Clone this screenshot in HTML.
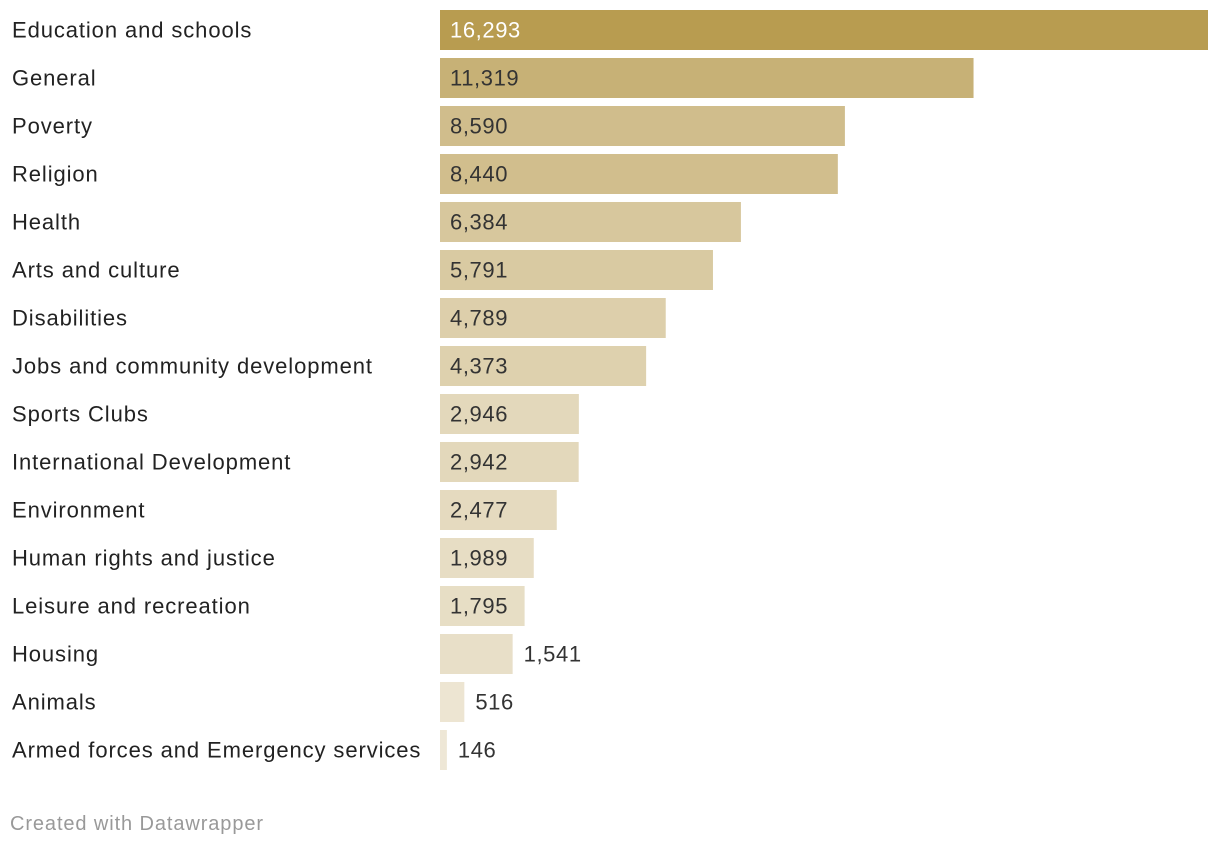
<!DOCTYPE html>
<html><head><meta charset="utf-8"><style>
body{margin:0;width:1220px;height:846px;background:#fff;font-family:"Liberation Sans",sans-serif;overflow:hidden}
svg text{font-family:"Liberation Sans",sans-serif}
</style></head><body>
<svg id="chart" width="1220" height="846"></svg>
<script>
const categories=["Education and schools","General","Poverty","Religion","Health","Arts and culture","Disabilities","Jobs and community development","Sports Clubs","International Development","Environment","Human rights and justice","Leisure and recreation","Housing","Animals","Armed forces and Emergency services"];
const values=[16293,11319,8590,8440,6384,5791,4789,4373,2946,2942,2477,1989,1795,1541,516,146];
const svg=document.getElementById('chart');
const NS='http://www.w3.org/2000/svg';
const x0=440,xW=768,maxV=Math.max(...values);
const xs=v=>v/maxV*xW;
const ys=i=>10+i*48;
const light=[239,232,216],dark=[184,156,80];
function col(v){const t=Math.pow(v/maxV,0.9);return 'rgb('+light.map((c,k)=>Math.round(c+(dark[k]-c)*t)).join(',')+')';}
values.forEach((v,i)=>{
  const y=ys(i),w=Math.max(xs(v),5);
  const lab=document.createElementNS(NS,'text');
  
  
  lab.setAttribute('x',12);lab.setAttribute('y',y+27.5);lab.setAttribute('font-size','22');lab.setAttribute('letter-spacing','0.9');lab.setAttribute('fill','#222');
  lab.textContent=categories[i];svg.appendChild(lab);
  const r=document.createElementNS(NS,'rect');
  
  
  r.setAttribute('x',x0);r.setAttribute('y',y);r.setAttribute('width',w);r.setAttribute('height',40);r.setAttribute('fill',col(v));
  svg.appendChild(r);
  const t=document.createElementNS(NS,'text');
  
  
  const inside=w>80;
  t.setAttribute('x',inside?x0+10:x0+w+11);t.setAttribute('y',y+27.5);t.setAttribute('font-size','22');t.setAttribute('letter-spacing','0.6');
  t.setAttribute('fill',i===0?'#fff':'#333');
  t.textContent=v.toLocaleString('en-US');svg.appendChild(t);
});
const f=document.createElementNS(NS,'text');


f.setAttribute('x',10);f.setAttribute('y',830);f.setAttribute('font-size','20');f.setAttribute('letter-spacing','0.9');f.setAttribute('fill','#999');
f.textContent='Created with Datawrapper';svg.appendChild(f);
</script>
</body></html>
